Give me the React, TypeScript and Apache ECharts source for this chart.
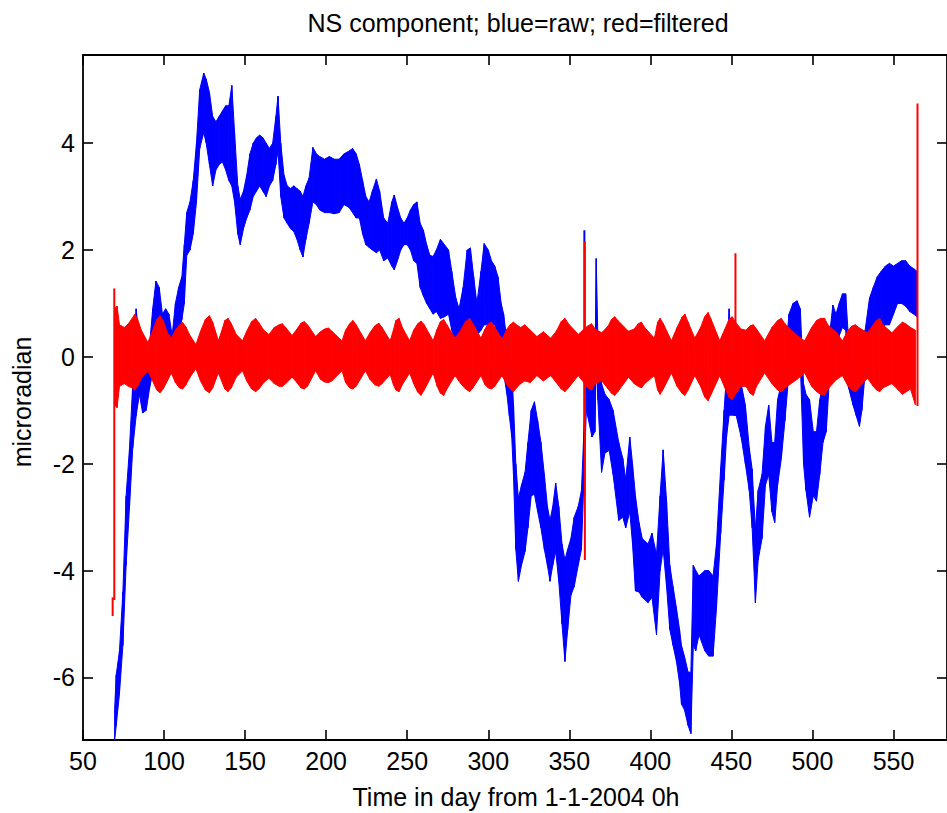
import React, { useEffect, useRef } from "react";
import * as echarts from "echarts";

const xTicks = [50, 100, 150, 200, 250, 300, 350, 400, 450, 500, 550];
const yTicks = [-6, -4, -2, 0, 2, 4];
const xRange = [50, 583];
const yRange = [-7.17, 5.65];

const titleText = "NS component; blue=raw; red=filtered";
const xLabel = "Time in day from 1-1-2004 0h";
const yLabel = "microradian";

// raw NS tilt band: [day, low, high]
const blueBand: number[][] = [
  [69.5, -7.17, -6.6], [70.5, -6.9, -5.95], [72.5, -6.3, -5.5], [74.6, -5.4, -4.4],
  [76.6, -3.9, -2.6], [78.7, -2.8, -1.7], [80.7, -1.7, -0.5], [82.8, -1.1, 0.9],
  [84.8, -0.7, 0.3], [86.8, -1.05, 0.1], [89, -1.0, 0.0], [91, -0.6, 0.2],
  [93, -0.3, 0.9], [95, 0.3, 1.42], [97, 0.4, 1.3], [99, 0.0, 0.8],
  [101, -0.2, 0.9], [103, -0.3, 0.8], [105, -0.3, 0.4], [107, 0.0, 1.0],
  [109, 0.4, 1.3], [111, 0.7, 1.5], [112.5, 1.0, 2.1], [114, 1.9, 2.7],
  [116, 2.0, 2.9], [118, 2.3, 3.3], [120, 2.9, 4.0], [122, 3.9, 5.0],
  [124.5, 4.2, 5.31], [126, 4.0, 5.2], [128, 3.6, 4.95], [130, 3.2, 4.5],
  [132, 3.5, 4.4], [134, 3.6, 4.5], [136, 3.65, 4.6], [138, 3.5, 4.7],
  [140, 3.3, 4.7], [141.8, 3.2, 5.08], [143.5, 2.9, 4.2], [145.5, 2.3, 3.2],
  [147, 2.1, 2.95], [149, 2.4, 3.1], [151, 2.6, 3.4], [153, 2.75, 3.8],
  [155, 3.0, 4.0], [157, 3.1, 4.1], [159, 3.2, 4.15], [161, 3.1, 4.1],
  [163, 3.0, 4.0], [165, 3.2, 3.9], [167, 3.3, 4.0], [169, 3.6, 4.5],
  [170.3, 3.86, 4.88], [172, 3.0, 4.0], [174, 2.6, 3.4], [176, 2.5, 3.2],
  [178, 2.4, 3.15], [180, 2.35, 3.2], [182, 2.2, 3.15], [184, 2.0, 3.1],
  [185.7, 1.87, 3.0], [187.5, 2.2, 3.2], [189.5, 2.5, 3.35], [191.8, 2.9, 3.92],
  [194, 2.85, 3.8], [196, 2.75, 3.75], [199, 2.7, 3.7], [202, 2.7, 3.75],
  [205, 2.68, 3.7], [208, 2.7, 3.7], [211, 2.85, 3.8], [214, 2.8, 3.85],
  [216.3, 2.7, 3.9], [218.5, 2.6, 3.8], [220.5, 2.6, 3.6], [222.5, 2.3, 3.3],
  [224.5, 2.1, 3.0], [226.5, 2.05, 2.9], [228.5, 2.0, 3.1], [231, 1.95, 3.33],
  [233, 2.0, 3.1], [235.5, 1.8, 2.6], [238, 1.85, 2.5], [240.5, 1.7, 2.9],
  [242, 1.63, 3.03], [244, 1.8, 2.8], [246, 2.0, 2.6], [248, 2.1, 2.5],
  [250, 2.1, 2.6], [252, 2.0, 2.75], [254, 1.8, 2.85], [256, 1.75, 2.9],
  [258, 1.3, 2.5], [260, 1.14, 2.37], [262, 1.0, 2.1], [264, 0.9, 1.9],
  [266, 0.8, 1.88], [268, 0.85, 2.0], [270.5, 0.72, 2.2], [273, 0.75, 2.1],
  [275.5, 0.8, 2.0], [277.5, 0.5, 1.6], [280, 0.1, 1.1], [282, -0.1, 0.9],
  [284.5, 0.2, 1.3], [287, 0.5, 2.0], [289, 0.6, 2.04], [291, 0.5, 1.5],
  [293, 0.4, 1.0], [295.5, 0.5, 1.6], [297.5, 0.6, 2.12], [300, 0.6, 2.0],
  [302, 0.6, 1.8], [304, 0.6, 1.7], [306, 0.4, 1.5], [308, 0.0, 1.0],
  [309.5, -0.3, 0.8], [311.5, -0.7, 0.3], [313, -1.1, 0.0], [314.5, -1.5, -0.3],
  [315.6, -2.24, -0.9], [317, -3.6, -2.0], [318.6, -4.2, -2.65], [320.5, -3.9, -2.4],
  [322.7, -3.64, -2.16], [324.5, -3.2, -1.6], [326.5, -2.6, -1.0], [328.5, -2.57, -0.84],
  [330.5, -2.9, -1.2], [332.5, -3.2, -1.6], [334.6, -3.6, -2.2], [336.5, -3.9, -2.8],
  [338.1, -4.2, -3.06], [339.8, -3.9, -2.8], [341.6, -3.64, -2.36], [343.5, -4.2, -2.8],
  [345.5, -5.0, -3.5], [347.3, -5.7, -3.8], [349, -5.1, -3.6], [351, -4.46, -3.4],
  [353, -4.3, -3.0], [355.5, -3.9, -2.8], [357.5, -3.6, -2.5], [360.5, -1.0, -0.3],
  [362, -1.2, -0.5], [364, -1.5, -0.6], [365.8, -1.4, -0.4], [366.6, 0.0, 1.84],
  [367.6, -0.8, 0.4], [369.9, -2.16, -0.5], [372, -1.8, -0.7], [374.6, -1.75, -0.8],
  [377, -2.2, -1.0], [380.5, -3.06, -1.6], [383, -3.0, -1.9], [384.8, -3.2, -2.3],
  [387.3, -2.9, -1.5], [389, -3.5, -2.0], [390.8, -4.38, -2.6], [393, -4.4, -3.1],
  [395, -4.5, -3.4], [398.6, -4.6, -3.5], [401, -4.5, -3.3], [403.8, -5.2, -3.7],
  [406, -4.0, -2.6], [407.9, -3.6, -1.74], [410, -4.3, -2.7], [412, -5.1, -3.9],
  [414, -5.4, -4.3], [416.1, -5.7, -4.7], [418, -6.1, -5.1], [419.2, -6.5, -5.4],
  [421, -6.6, -5.6], [423.3, -6.9, -5.9], [425, -7.05, -5.9], [426.5, -5.4, -3.9],
  [428, -5.5, -4.0], [430, -5.2, -4.1], [433.6, -5.5, -4.0], [436, -5.6, -4.0],
  [438.7, -5.6, -4.1], [440.8, -4.7, -3.5], [443.4, -3.3, -2.07], [445.5, -2.3, -1.0],
  [447, -1.5, -0.3], [448.6, -1.09, 0.9], [450.5, -1.09, 0.0], [453, -1.1, -0.1],
  [456, -1.5, -0.5], [458.6, -2.0, -0.9], [461, -2.5, -1.7], [462.8, -3.2, -2.1],
  [464.8, -4.6, -3.23], [466.5, -3.8, -2.5], [468.9, -3.4, -2.2], [471, -2.4, -1.3],
  [473, -2.2, -0.9], [475, -2.9, -1.6], [476.7, -3.1, -1.6], [478.5, -2.4, -0.8],
  [480.8, -1.9, -0.5], [483, -1.2, -0.1], [485.5, -0.3, 0.8], [488, 0.3, 1.0],
  [490.5, 0.2, 1.05], [492.5, -0.1, 0.9], [494.5, -2.0, -0.5], [496, -2.5, -0.7],
  [498.2, -3.0, -0.8], [500.5, -2.6, -1.4], [502.5, -2.7, -1.4], [504.5, -2.2, -0.8],
  [506.5, -1.6, -0.5], [508.5, -1.4, -0.3], [510.5, -0.4, 0.4], [512.6, 0.3, 0.97],
  [514.5, 0.1, 0.8], [516.5, 0.4, 1.0], [518.5, 0.55, 1.18], [520.5, 0.5, 1.18],
  [522.5, -0.6, 0.2], [525, -0.9, -0.1], [527, -1.1, -0.3], [529, -1.3, -0.4],
  [530.5, -1.0, -0.3], [532.5, -0.3, 0.5], [535.2, 0.3, 1.1], [537.5, 0.4, 1.3],
  [540, 0.5, 1.5], [542.4, 0.55, 1.6], [545, 0.6, 1.7], [547.5, 0.6, 1.75],
  [550, 0.8, 1.7], [552.5, 1.0, 1.75], [555, 1.0, 1.8], [557.5, 0.95, 1.8],
  [560, 0.85, 1.7], [562.5, 0.8, 1.65], [564.6, 0.75, 1.6],
];

// filtered band: [day, low, high]
const redBand: number[][] = [
  [69.5, -0.9, 0.9], [71, -0.95, 0.95], [72.5, -0.55, 0.6], [75.5, -0.5, 0.55],
  [78, -0.55, 0.62], [80.3, -0.58, 0.72], [82, -0.62, 0.8], [83.7, -0.55, 0.7],
  [86, -0.4, 0.5], [90, -0.26, 0.27], [92.5, -0.42, 0.45], [95.5, -0.62, 0.7],
  [97.5, -0.67, 0.77], [99.5, -0.6, 0.68], [102, -0.45, 0.45], [104.5, -0.3, 0.35],
  [107, -0.48, 0.5], [109.5, -0.58, 0.6], [111.5, -0.6, 0.64], [113.5, -0.52, 0.56],
  [116, -0.38, 0.4], [119.7, -0.22, 0.23], [122.5, -0.45, 0.48], [125.5, -0.62, 0.7],
  [128, -0.67, 0.77], [130, -0.58, 0.65], [133.5, -0.3, 0.3], [135.5, -0.45, 0.48],
  [137.5, -0.6, 0.68], [139.5, -0.65, 0.72], [141.5, -0.58, 0.62], [144.5, -0.38, 0.42],
  [148.4, -0.26, 0.3], [151, -0.45, 0.48], [154, -0.6, 0.66], [156.5, -0.65, 0.72],
  [158.5, -0.6, 0.64], [161.5, -0.48, 0.5], [164.7, -0.4, 0.42], [168, -0.5, 0.55],
  [171, -0.55, 0.6], [173, -0.55, 0.62], [175, -0.5, 0.55], [179, -0.38, 0.4],
  [182, -0.48, 0.52], [184.5, -0.58, 0.63], [186.5, -0.6, 0.66], [188.5, -0.55, 0.6],
  [193.5, -0.26, 0.38], [196.5, -0.42, 0.47], [199, -0.47, 0.52], [201.5, -0.48, 0.54],
  [203.5, -0.45, 0.48], [209.8, -0.26, 0.3], [212, -0.48, 0.5], [214.5, -0.58, 0.62],
  [216.5, -0.6, 0.68], [218.5, -0.55, 0.6], [224.2, -0.26, 0.3], [227, -0.42, 0.45],
  [230, -0.52, 0.58], [232.5, -0.55, 0.63], [234.5, -0.5, 0.55], [239.5, -0.33, 0.3],
  [241.5, -0.52, 0.5], [243, -0.62, 0.68], [245, -0.65, 0.72], [247, -0.52, 0.55],
  [251.5, -0.3, 0.3], [254, -0.5, 0.5], [256.5, -0.66, 0.62], [258.5, -0.72, 0.67],
  [260.5, -0.62, 0.6], [266, -0.3, 0.3], [268.5, -0.55, 0.52], [270.5, -0.68, 0.66],
  [272.5, -0.72, 0.7], [274.5, -0.6, 0.6], [279.5, -0.35, 0.35], [283, -0.5, 0.5],
  [286, -0.6, 0.66], [288.5, -0.65, 0.72], [290.5, -0.58, 0.62], [295.5, -0.35, 0.35],
  [298, -0.52, 0.52], [300, -0.58, 0.62], [302, -0.6, 0.65], [304, -0.55, 0.56],
  [308.5, -0.35, 0.33], [311.5, -0.52, 0.52], [313.5, -0.6, 0.6], [315.5, -0.65, 0.65],
  [317.5, -0.58, 0.6], [320, -0.5, 0.55], [322.5, -0.45, 0.6], [326, -0.48, 0.5],
  [330, -0.35, 0.38], [334, -0.45, 0.47], [338.5, -0.35, 0.35], [342, -0.48, 0.48],
  [345, -0.6, 0.66], [347.3, -0.65, 0.72], [349.5, -0.58, 0.62], [355.5, -0.35, 0.42],
  [359, -0.48, 0.52], [361.5, -0.58, 0.58], [363.7, -0.62, 0.62], [366, -0.5, 0.52],
  [370, -0.45, 0.45], [374, -0.6, 0.58], [376, -0.68, 0.7], [378, -0.72, 0.75],
  [380, -0.65, 0.68], [386.5, -0.38, 0.48], [390, -0.5, 0.52], [392.5, -0.55, 0.62],
  [394.5, -0.58, 0.65], [396.5, -0.5, 0.55], [402.5, -0.35, 0.35], [404.5, -0.62, 0.65],
  [406, -0.7, 0.72], [408, -0.6, 0.62], [413, -0.3, 0.3], [416.5, -0.55, 0.55],
  [419.5, -0.68, 0.74], [421.3, -0.72, 0.8], [423.3, -0.62, 0.65], [427.4, -0.35, 0.35],
  [431, -0.55, 0.55], [433.5, -0.75, 0.75], [435.6, -0.82, 0.83], [437.5, -0.7, 0.7],
  [442.8, -0.35, 0.3], [446, -0.58, 0.52], [448.5, -0.75, 0.7], [450.5, -0.8, 0.75],
  [452.5, -0.7, 0.65], [456, -0.55, 0.52], [459, -0.55, 0.5], [461.5, -0.68, 0.58],
  [463.5, -0.72, 0.6], [465.5, -0.55, 0.52], [470.5, -0.3, 0.3], [475, -0.5, 0.55],
  [478.5, -0.62, 0.68], [480.8, -0.65, 0.72], [483, -0.58, 0.62], [490.5, -0.42, 0.4],
  [495.2, -0.3, 0.3], [499.5, -0.55, 0.55], [502.5, -0.65, 0.68], [505, -0.7, 0.72],
  [507.5, -0.72, 0.72], [509.5, -0.6, 0.6], [515, -0.42, 0.45], [518.5, -0.35, 0.3],
  [522, -0.55, 0.5], [524.5, -0.62, 0.58], [526.5, -0.65, 0.6], [528.5, -0.58, 0.55],
  [534, -0.4, 0.45], [537.5, -0.55, 0.6], [539.5, -0.62, 0.68], [541.5, -0.65, 0.72],
  [543.5, -0.58, 0.6], [549, -0.5, 0.45], [553, -0.62, 0.58], [555.5, -0.7, 0.65],
  [557.5, -0.66, 0.62], [560.5, -0.6, 0.55], [563.5, -0.9, 0.5],
];

// isolated vertical excursions: [day, low, high]
const blueSpikes: number[][] = [[359.3, -2.6, 2.37]];
const redSpikes: number[][] = [
  [68.3, -4.85, -4.5], [69.3, -4.55, 1.28], [359.6, -3.8, 2.16],
  [452.5, 0.0, 1.94], [564.8, -0.92, 4.74],
];

const FONT = "'Liberation Sans', Arial, Helvetica, sans-serif";

function bandSeries(rows: number[][], color: string, z: number) {
  return {
    type: "custom",
    xAxisIndex: 0,
    yAxisIndex: 0,
    clip: true,
    z,
    silent: true,
    data: rows,
    encode: { x: 0, y: [1, 2] },
    renderItem: (params: any, api: any) => {
      const i = params.dataIndex;
      if (i >= rows.length - 1) return null;
      const a = rows[i];
      const b = rows[i + 1];
      const p1 = api.coord([a[0], a[2]]);
      const p2 = api.coord([b[0], b[2]]);
      const p3 = api.coord([b[0], b[1]]);
      const p4 = api.coord([a[0], a[1]]);
      return {
        type: "polygon",
        shape: { points: [p1, p2, p3, p4] },
        style: { fill: color, stroke: color, lineWidth: 1 },
      };
    },
  };
}

function spikeSeries(rows: number[][], color: string, z: number) {
  return {
    type: "custom",
    xAxisIndex: 0,
    yAxisIndex: 0,
    clip: true,
    z,
    silent: true,
    data: rows,
    encode: { x: 0, y: [1, 2] },
    renderItem: (params: any, api: any) => {
      const r = rows[params.dataIndex];
      const p1 = api.coord([r[0], r[1]]);
      const p2 = api.coord([r[0], r[2]]);
      return {
        type: "line",
        shape: { x1: p1[0], y1: p1[1], x2: p2[0], y2: p2[1] },
        style: { stroke: color, lineWidth: 2 },
      };
    },
  };
}

function axisBase(range: number[], ticks: number[], pos: string, showLabels: boolean) {
  return {
    type: "value",
    min: range[0],
    max: range[1],
    position: pos,
    axisLine: { show: true, onZero: false, lineStyle: { color: "#000", width: 1.8 } },
    axisTick: {
      show: true,
      inside: true,
      length: 10,
      customValues: ticks,
      lineStyle: { color: "#000", width: 1.6 },
    },
    axisLabel: {
      show: showLabels,
      customValues: ticks,
      color: "#000",
      fontSize: 25,
      fontFamily: FONT,
      margin: 8,
    },
    splitLine: { show: false },
  };
}

export default function App() {
  const ref = useRef<HTMLDivElement>(null);
  useEffect(() => {
    if (!ref.current) return;
    const chart = echarts.init(ref.current, null, { renderer: "svg" });
    chart.setOption({
      animation: false,
      backgroundColor: "#fff",
      grid: { left: 83, top: 55, bottom: 73, right: -7, containLabel: false },
      xAxis: [
        axisBase(xRange, xTicks, "bottom", true),
        axisBase(xRange, xTicks, "top", false),
      ],
      yAxis: [
        axisBase(yRange, yTicks, "left", true),
        axisBase(yRange, yTicks, "right", false),
      ],
      graphic: [
        {
          type: "text",
          x: 518,
          y: 23,
          style: {
            text: titleText,
            fontSize: 25,
            fontFamily: FONT,
            fill: "#000",
            textAlign: "center",
            textVerticalAlign: "middle",
          },
        },
        {
          type: "text",
          x: 516,
          y: 797,
          style: {
            text: xLabel,
            fontSize: 25,
            fontFamily: FONT,
            fill: "#000",
            textAlign: "center",
            textVerticalAlign: "middle",
          },
        },
        {
          type: "text",
          x: 22,
          y: 402,
          rotation: Math.PI / 2,
          style: {
            text: yLabel,
            fontSize: 25,
            fontFamily: FONT,
            fill: "#000",
            textAlign: "center",
            textVerticalAlign: "middle",
          },
        },
      ],
      series: [
        bandSeries(blueBand, "#0000ff", 2),
        spikeSeries(blueSpikes, "#0000ff", 3),
        bandSeries(redBand, "#ff0000", 4),
        spikeSeries(redSpikes, "#ff0000", 5),
      ],
    });
    return () => chart.dispose();
  }, []);
  return (
    <div
      ref={ref}
      style={{ position: "fixed", left: 0, top: 0, width: 947, height: 813, background: "#fff" }}
    />
  );
}
